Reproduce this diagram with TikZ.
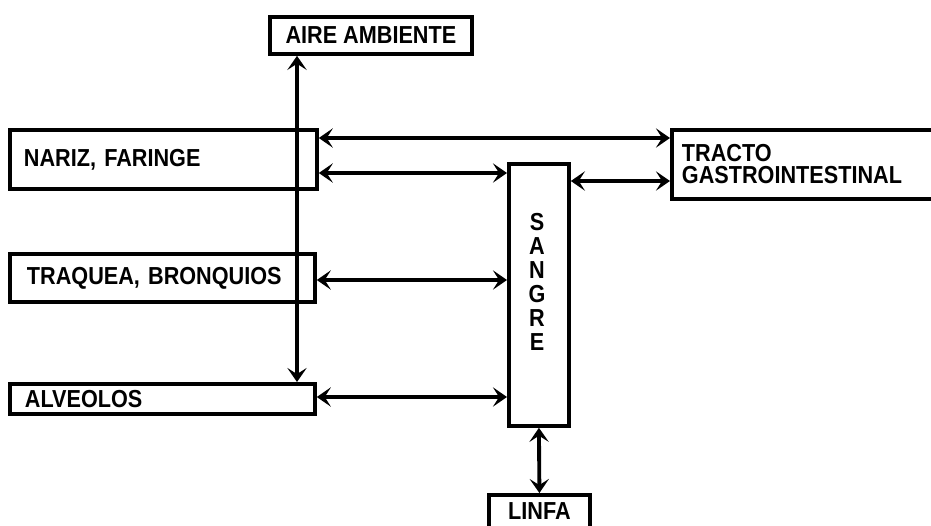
\documentclass[tikz,border=0pt]{standalone}
\usepackage{fontspec}
\setmainfont{Liberation Sans}
\newfontfamily\etiqueta{Liberation Sans Bold}[FakeStretch=0.88]
\usetikzlibrary{arrows.meta}

\begin{document}
\begin{tikzpicture}[>={Stealth[length=8pt,width=11pt,inset=3.5pt]},x=0.02cm,y=-0.02cm,
  caja/.style={draw,line width=2.2pt,inner sep=0pt,anchor=north west,
    font=\etiqueta\fontsize{14}{12.5}\selectfont},
  izq/.style={align=left},
  flecha/.style={<->,line width=2.2pt}]
  \useasboundingbox (0,0) rectangle (931,525);
  \clip (0,0) rectangle (931,525);
  % cajas
  \node[caja,minimum width=4.04cm,minimum height=0.74cm] (aire) at (268,15) {AIRE AMBIENTE};
  \node[caja,izq,text width=5.58cm,inner xsep=0.28cm,minimum height=1.18cm] (nariz) at (8,128) {NARIZ, FARINGE};
  \node[caja,izq,text width=5.42cm,inner xsep=0.34cm,minimum height=0.96cm] (traquea) at (8,252) {TRAQUEA, BRONQUIOS};
  \node[caja,izq,text width=5.5cm,inner xsep=0.3cm,minimum height=0.6cm] (alveolos) at (8,382) {ALVEOLOS};
  \node[caja,minimum width=1.2cm,minimum height=5.24cm] (sangre) at (507,162) {};
  \node[font=\etiqueta\fontsize{14}{13.6}\selectfont,align=center] (sangretxt) at (537,282) {S\\A\\N\\G\\R\\E};
  \node[caja,izq,text width=5.2cm,inner xsep=0.2cm,minimum height=1.38cm] (tracto) at (670,128) {TRACTO\\GASTROINTESTINAL};
  \node[caja,minimum width=2.02cm,text height=0.5cm,text depth=0.3cm] (linfa) at (487,493) {LINFA};
  % niveles
  \coordinate (eje) at (297,0);
  \coordinate (nivA) at (0,138);
  \coordinate (nivB) at (0,173);
  \coordinate (nivC) at (0,181);
  \coordinate (nivD) at (0,280);
  \coordinate (nivE) at (0,397);
  % flechas
  \draw[flecha] (aire.south -| eje) -- (alveolos.north -| eje);
  \draw[flecha] (nariz.east |- nivA) -- (tracto.west |- nivA);
  \draw[flecha] (nariz.east |- nivB) -- (sangre.west |- nivB);
  \draw[flecha] (sangre.east |- nivC) -- (tracto.west |- nivC);
  \draw[flecha] (traquea.east |- nivD) -- (sangre.west |- nivD);
  \draw[flecha] (alveolos.east |- nivE) -- (sangre.west |- nivE);
  \draw[flecha] (sangre.south) -- (linfa.north);
\end{tikzpicture}
\end{document}
